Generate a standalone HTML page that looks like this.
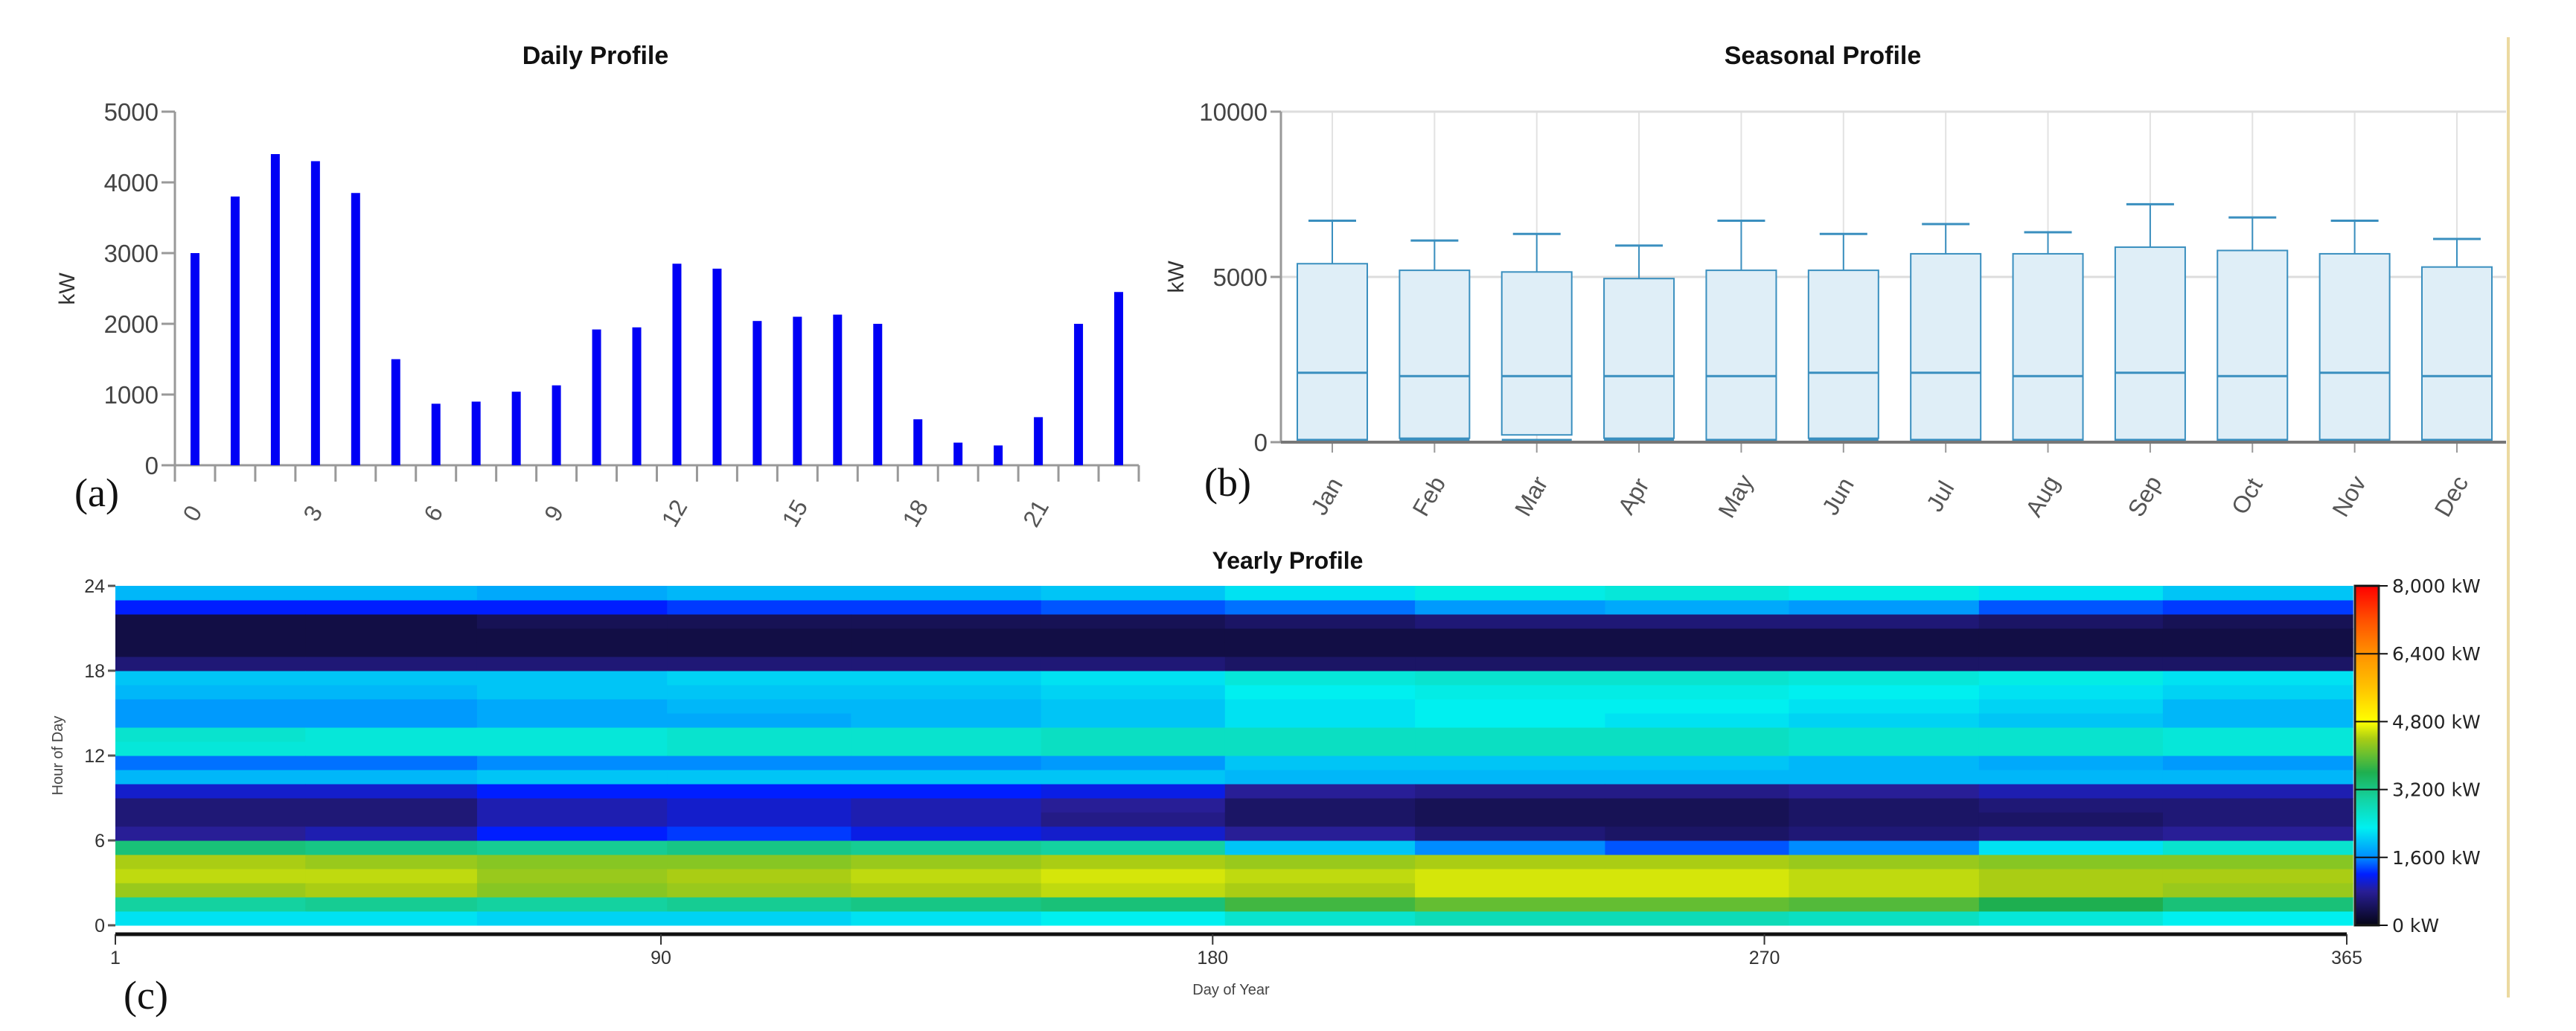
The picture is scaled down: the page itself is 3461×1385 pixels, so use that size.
<!DOCTYPE html>
<html><head><meta charset="utf-8"><style>
html,body{margin:0;padding:0;background:#fff;}
svg{display:block;font-family:"Liberation Sans Narrow","Liberation Sans",sans-serif;}
</style></head><body>
<svg id="root" width="3461" height="1385" viewBox="0 0 3461 1385" xmlns="http://www.w3.org/2000/svg">
<line x1="3370" y1="50" x2="3370" y2="1340" stroke="#ecd9a0" stroke-width="4"/>
<g id="daily"></g>
<g id="seasonal"></g>
<g id="yearly"></g>
</svg>
<script>
// ---- Daily profile data ----
const hours = [0,1,2,3,4,5,6,7,8,9,10,11,12,13,14,15,16,17,18,19,20,21,22,23];
const dailyKW = [3000,3800,4400,4300,3850,1500,870,900,1040,1130,1920,1950,2850,2780,2040,2100,2130,2000,650,320,280,680,2000,2450];
const dailyTicks = [0,1000,2000,3000,4000,5000];
// ---- Seasonal data ----
const months = ["Jan","Feb","Mar","Apr","May","Jun","Jul","Aug","Sep","Oct","Nov","Dec"];
const whiskerHigh = [6700,6100,6300,5950,6700,6300,6600,6350,7200,6800,6700,6150];
const q3 = [5400,5200,5150,4950,5200,5200,5700,5700,5900,5800,5700,5300];
const median = [2100,2000,2000,2000,2000,2100,2100,2000,2100,2000,2100,2000];
const q1 = [60,120,220,120,60,120,60,60,60,60,60,60];
const seasonalTicks = [0,5000,10000];
// ---- Yearly heatmap data (kW/100), rows = month blocks, cols = hour 0..23 ----
const heatJan = [22,30,43,45,44,33,8,6,6,10,19,15,25,26,17,17,19,20,6,3,3,3,12,19];
const heatFeb = [22,31,44,45,43,32,9,6,6,10,19,15,25,25,17,17,19,20,6,3,3,3,12,19];
const heatMar = [21,30,42,43,42,31,12,9,9,12,20,16,25,25,18,18,20,20,6,3,3,4,12,18];
const heatApr = [21,31,43,44,42,32,13,10,10,12,20,16,26,26,18,19,20,21,6,3,3,4,13,19];
const heatMay = [22,32,44,45,43,31,11,9,9,12,20,16,26,26,19,19,20,21,6,3,3,4,13,19];
const heatJun = [23,33,45,46,44,30,10,7,8,11,20,17,27,27,20,20,21,22,6,3,3,4,14,20];
const heatJul = [26,38,44,45,43,20,8,5,5,8,19,20,27,27,22,22,23,25,5,3,3,5,15,22];
const heatAug = [28,40,46,46,44,16,6,4,4,7,19,20,27,27,23,23,24,26,5,3,3,6,17,24];
const heatSep = [28,40,46,46,44,14,5,4,4,7,19,20,27,27,22,23,24,26,5,3,3,6,18,25];
const heatOct = [27,39,45,45,43,16,6,5,5,8,19,19,26,26,21,22,23,25,5,3,3,6,17,24];
const heatNov = [25,36,44,44,42,22,7,5,6,9,19,18,26,26,20,21,22,24,5,3,3,5,14,22];
const heatDec = [23,33,43,44,42,26,8,6,6,9,19,17,25,25,19,19,21,22,5,3,3,4,13,20];
const heatRows = [heatJan,heatFeb,heatMar,heatApr,heatMay,heatJun,heatJul,heatAug,heatSep,heatOct,heatNov,heatDec];
const blockStartDay = [1,32,60,91,121,152,182,213,244,274,305,335];
const dayTicks = [1,90,180,270,365];
const hourTicks = [0,6,12,18,24];
const cbTicks = [0,1600,3200,4800,6400,8000];
const cbLabels = ["0 kW","1,600 kW","3,200 kW","4,800 kW","6,400 kW","8,000 kW"];

const NS="http://www.w3.org/2000/svg";
function mk(parent,tag,attrs,text){const e=document.createElementNS(NS,tag);for(const k in attrs)e.setAttribute(k,attrs[k]);if(text!==undefined)e.textContent=text;parent.appendChild(e);return e;}

// ---------- Daily ----------
(function(){
const g=document.getElementById('daily');
const x0=235,x1=1530,yTop=150,yBot=625,maxV=5000;
const step=(x1-x0)/24;
const y=v=>yBot-(v/maxV)*(yBot-yTop);
const xc=i=>x0+step*(i+0.5);
let t=mk(g,'text',{x:800,y:86,'text-anchor':'middle','font-size':34,'font-weight':'bold',fill:'#111'},'Daily Profile');

let yl=mk(g,'text',{transform:'translate(100,388) rotate(-90)','text-anchor':'middle','font-size':30,fill:'#333'},'kW');

let ax=mk(g,'line',{x1:x0,y1:yTop,x2:x0,y2:yBot+22,stroke:'#999','stroke-width':3});

dailyTicks.forEach(v=>{
 let tk=mk(g,'line',{x1:x0-18,y1:y(v),x2:x0,y2:y(v),stroke:'#999','stroke-width':3});
 
 let l=mk(g,'text',{x:x0-22,y:y(v)+12,'text-anchor':'end','font-size':33,fill:'#444'},String(v));
 
});
let bx=mk(g,'line',{x1:x0-18,y1:yBot,x2:x1,y2:yBot,stroke:'#999','stroke-width':3});

for(let i=0;i<=24;i++){
 let tk=mk(g,'line',{x1:x0+step*i,y1:yBot,x2:x0+step*i,y2:yBot+22,stroke:'#999','stroke-width':3});
 
}
hours.forEach((h,i)=>{
 let r=mk(g,'rect',{x:xc(i)-6,y:y(dailyKW[i]),width:12,height:yBot-y(dailyKW[i]),fill:'#0000f5'});
 
 if(h%3===0){
  let l=mk(g,'text',{transform:`translate(${xc(i)+6},${yBot+70}) rotate(-60)`,'text-anchor':'middle','font-size':32,fill:'#555'},String(h));
  
 }
});
let p=mk(g,'text',{x:100,y:680,'font-size':54,'font-family':'Liberation Serif, serif',fill:'#111'},'(a)');

})();

// ---------- Seasonal ----------
(function(){
const g=document.getElementById('seasonal');
const x0=1721,x1=3367,yTop=150,yBot=594,maxV=10000;
const step=(3301-1790)/11;
const xc=i=>1790+step*i;
const y=v=>yBot-(v/maxV)*(yBot-yTop);
let t=mk(g,'text',{x:2449,y:86,'text-anchor':'middle','font-size':34,'font-weight':'bold',fill:'#111'},'Seasonal Profile');

let yl=mk(g,'text',{transform:'translate(1590,372) rotate(-90)','text-anchor':'middle','font-size':30,fill:'#333'},'kW');

months.forEach((m,i)=>{
 let gl=mk(g,'line',{x1:xc(i),y1:yTop,x2:xc(i),y2:yBot,stroke:'#e2e2e2','stroke-width':2});
 
});
seasonalTicks.forEach(v=>{
 if(v>0){let gl=mk(g,'line',{x1:x0,y1:y(v),x2:x1,y2:y(v),stroke:'#ddd','stroke-width':3});
 }
 let tk=mk(g,'line',{x1:x0-14,y1:y(v),x2:x0,y2:y(v),stroke:'#999','stroke-width':3});
 
 let l=mk(g,'text',{x:x0-18,y:y(v)+12,'text-anchor':'end','font-size':33,fill:'#444'},String(v));
 
});
let ax=mk(g,'line',{x1:x0,y1:yTop,x2:x0,y2:yBot,stroke:'#999','stroke-width':3});

const bw=94;
months.forEach((m,i)=>{
 const c=xc(i);
 let w=mk(g,'line',{x1:c,y1:y(whiskerHigh[i]),x2:c,y2:y(q3[i]),stroke:'#3a8fbf','stroke-width':2});
 
 let wc=mk(g,'line',{x1:c-32,y1:y(whiskerHigh[i]),x2:c+32,y2:y(whiskerHigh[i]),stroke:'#3a8fbf','stroke-width':3});
 
 let b=mk(g,'rect',{x:c-bw/2,y:y(q3[i]),width:bw,height:y(q1[i])-y(q3[i]),fill:'#dfeef7',stroke:'#3a8fbf','stroke-width':2});
 
 let md=mk(g,'line',{x1:c-bw/2,y1:y(median[i]),x2:c+bw/2,y2:y(median[i]),stroke:'#3a8fbf','stroke-width':3});
 
 let lo=mk(g,'line',{x1:c-bw/2,y1:y(0)-3,x2:c+bw/2,y2:y(0)-3,stroke:'#3a8fbf','stroke-width':3});
 
 let tk=mk(g,'line',{x1:c,y1:yBot,x2:c,y2:yBot+14,stroke:'#999','stroke-width':2});
 
 let l=mk(g,'text',{transform:`translate(${c+2},${yBot+78}) rotate(-60)`,'text-anchor':'middle','font-size':32,fill:'#555'},m);
 
});
let bx=mk(g,'line',{x1:x0,y1:yBot,x2:x1,y2:yBot,stroke:'#777','stroke-width':4});

let p=mk(g,'text',{x:1618,y:666,'font-size':54,'font-family':'Liberation Serif, serif',fill:'#111'},'(b)');

})();

// ---------- Yearly heatmap ----------
(function(){
const g=document.getElementById('yearly');
const x0=155,x1=3153,yTop=787,yBot=1243;
const xd=d=>x0+(d-1)/364*(x1-x0);
const yh=h=>yBot-(h/24)*(yBot-yTop);
const stops=[[0,[5,5,20]],[800,[40,30,150]],[1200,[0,30,255]],[1600,[0,140,255]],[2300,[0,240,240]],[3000,[20,210,160]],[3600,[30,175,80]],[4400,[170,205,20]],[4800,[255,255,0]],[5600,[255,195,0]],[6400,[255,145,0]],[7200,[255,80,0]],[8000,[255,0,0]]];
function col(v){v=Math.max(0,Math.min(8000,v));for(let i=1;i<stops.length;i++){if(v<=stops[i][0]){const a=stops[i-1],b=stops[i];const t=(v-a[0])/(b[0]-a[0]);const c=a[1].map((q,k)=>Math.round(q+(b[1][k]-q)*t));return `rgb(${c[0]},${c[1]},${c[2]})`;}}return 'rgb(255,0,0)';}
let t=mk(g,'text',{x:1730,y:764,'text-anchor':'middle','font-size':32,'font-weight':'bold',fill:'#111'},'Yearly Profile');

heatRows.forEach((row,bi)=>{
 const ds=blockStartDay[bi], de=bi<11?blockStartDay[bi+1]:366;
 row.forEach((v,h)=>{
  let r=mk(g,'rect',{x:xd(ds),y:yh(h+1),width:xd(de)-xd(ds)+0.5,height:yh(h)-yh(h+1)+0.5,fill:col(v*100)});
  
  
 });
});
hourTicks.forEach(h=>{
 let tk=mk(g,'line',{x1:x0-10,y1:yh(h),x2:x0,y2:yh(h),stroke:'#555','stroke-width':3});
 
 let l=mk(g,'text',{x:x0-14,y:yh(h)+9,'text-anchor':'end','font-size':25,fill:'#333'},String(h));
 
});
let yl=mk(g,'text',{transform:'translate(84,1015) rotate(-90)','text-anchor':'middle','font-size':20,fill:'#444'},'Hour of Day');

let bx=mk(g,'line',{x1:x0,y1:yBot+12,x2:x1,y2:yBot+12,stroke:'#111','stroke-width':5});

dayTicks.forEach(d=>{
 let tk=mk(g,'line',{x1:xd(d),y1:yBot+12,x2:xd(d),y2:yBot+26,stroke:'#333','stroke-width':2});
 
 let l=mk(g,'text',{x:xd(d),y:yBot+52,'text-anchor':'middle','font-size':25,fill:'#333'},String(d));
 
});
let xl=mk(g,'text',{x:1654,y:1336,'text-anchor':'middle','font-size':20,fill:'#444'},'Day of Year');

// colorbar
const cx=3164,cw=32;
const cy=v=>yBot-(v/8000)*(yBot-yTop);
const defs=mk(g,'defs',{});
const lg=mk(defs,'linearGradient',{id:'cbg',x1:0,y1:1,x2:0,y2:0});
stops.forEach(s=>mk(lg,'stop',{offset:s[0]/8000,'stop-color':`rgb(${s[1].join(',')})`}));
let cb=mk(g,'rect',{x:cx,y:yTop,width:cw,height:yBot-yTop,fill:'url(#cbg)',stroke:'#222','stroke-width':3});

cbTicks.forEach((v,i)=>{
 let tk=mk(g,'line',{x1:cx,y1:cy(v),x2:cx+cw+12,y2:cy(v),stroke:'#111','stroke-width':2});
 
 let l=mk(g,'text',{x:cx+cw+18,y:cy(v)+9,'font-size':25,'font-family':'DejaVu Sans, sans-serif',fill:'#222'},cbLabels[i]);
 
});
let p=mk(g,'text',{x:166,y:1355,'font-size':54,'font-family':'Liberation Serif, serif',fill:'#111'},'(c)');

})();
</script>
</body></html>
